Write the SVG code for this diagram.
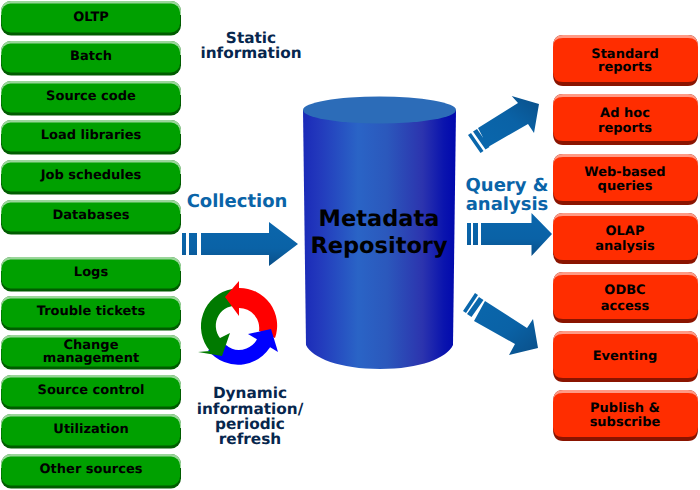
<svg xmlns="http://www.w3.org/2000/svg" width="700" height="490" viewBox="0 0 700 490">
<style>
text{font-family:"DejaVu Sans",Verdana,sans-serif;font-weight:700;text-anchor:middle;text-rendering:geometricPrecision}
.n{font-size:13px;fill:#000}
.d{font-size:15.300px;fill:#06264d}
.b{font-size:18px;fill:#0a64a8}
.m{font-size:22.500px;fill:#000}
.gs{fill:#005c00}.gh{fill:#9ad69a}.gf{fill:#00a000}
.rs{fill:#8a1400}.rh{fill:#ff9a85}.rf{fill:#ff2d00}
</style>
<defs>
<linearGradient id="ar" x1="0" y1="0" x2="0" y2="1"><stop offset="0" stop-color="#0a66ac"/><stop offset=".6" stop-color="#0a62a6"/><stop offset="1" stop-color="#0a4f88"/></linearGradient>
<linearGradient id="au" x1="0" y1="1" x2="1" y2="0"><stop offset="0" stop-color="#0a68ae"/><stop offset=".6" stop-color="#0a62a6"/><stop offset="1" stop-color="#0a4f88"/></linearGradient>
<linearGradient id="ad" x1="0" y1="0" x2="1" y2="1"><stop offset="0" stop-color="#0a68ae"/><stop offset=".6" stop-color="#0a62a6"/><stop offset="1" stop-color="#0a4f88"/></linearGradient>
<linearGradient id="cy" x1="0" y1="0" x2="1" y2="0"><stop offset="0" stop-color="#1a2ab8"/><stop offset=".1" stop-color="#2238bc"/><stop offset=".36" stop-color="#2a64c6"/><stop offset=".55" stop-color="#2b58bc"/><stop offset=".78" stop-color="#2c34ae"/><stop offset=".92" stop-color="#0a14ae"/><stop offset="1" stop-color="#0008ae"/></linearGradient>
<g id="gb"><rect class="gs" x="1" y="0" width="180" height="34.500" rx="10"/><path class="gh" d="M1 11A10 10 0 0 1 11 0H171A10 10 0 0 1 181 11V14H1Z"/><rect class="gf" x="1.500" y="2.500" width="178.500" height="29" rx="9"/></g>
<g id="rb"><path class="rs" d="M553 12Q553 0 563 0H688Q698 0 698 12V39Q698 51 688 51H563Q553 51 553 39Z"/><path class="rh" d="M553 12Q553 0 563 0H688Q698 0 698 12V20H553Z"/><path class="rf" d="M553 12Q553 3 563 3H688Q698 3 698 12V37Q698 47 688 47H563Q553 47 553 37Z"/></g>
</defs>
<rect width="700" height="490" fill="#fff"/>
<g id="connectors">
<path id="arrow-collection" fill="url(#ar)" d="M182 233h4v22h-4zM189 233h8v22h-8zM201 233H269V222L298 244L269 266V255H201Z"/>
<path id="arrow-up" fill="url(#au)" d="M468 135l3-2 12.500 18-3 2zM473 131.500l4-2.500 12.500 18-4 2.500zM478 128L518 103L511.700 96L539 104L534 133L528 124L488 147Z"/>
<path id="arrow-right" fill="url(#ar)" d="M467 223h4v22h-4zM473 223h5v22h-5zM481 223H531.500V213L552 234L531.500 256V245H481Z"/>
<path id="arrow-down" fill="url(#ad)" d="M463 311l12-18 3 2-12 18zM467 314l12-17 4.500 3-12 17zM474 321L485 301L527 328L533 319L538 348L509 355L515 344Z"/>
</g>
<g id="repository">
<path fill="url(#cy)" d="M303 110L306 345C312 358 340 369 380 369S447 358 453 345L456 110Z"/>
<ellipse cx="379.500" cy="110" rx="76.500" ry="13.500" fill="#2c6cb8"/>
<text class="m" x="379" y="226">Metadata</text>
<text class="m" x="379" y="253">Repository</text>
</g>
<g id="refresh-cycle">
<path fill="#0000ff" d="M208 350A38 38 0 0 0 274 339L259 332A20 20 0 0 1 226 345Z"/>
<path fill="#007a00" d="M232 289A38 38 0 0 0 210 351L198 352L222 356L230 333L220 338A20 20 0 0 1 239 306Z"/>
<path fill="#ff0000" d="M239 288A37.500 37.500 0 0 1 275 338L259 331A20 20 0 0 0 239 308V316L225 297L239 281Z"/>
<path fill="#0000ff" d="M248 334L271 329L278 352Z"/>
</g>
<g id="src-oltp"><use href="#gb" y="1"/><text class="n" x="91" y="21">OLTP</text></g>
<g id="src-batch"><use href="#gb" y="41"/><text class="n" x="91" y="60">Batch</text></g>
<g id="src-code"><use href="#gb" y="81"/><text class="n" x="91" y="100">Source code</text></g>
<g id="src-libs"><use href="#gb" y="120"/><text class="n" x="91" y="139">Load libraries</text></g>
<g id="src-jobs"><use href="#gb" y="160"/><text class="n" x="91" y="179">Job schedules</text></g>
<g id="src-db"><use href="#gb" y="200"/><text class="n" x="91" y="219">Databases</text></g>
<g id="src-logs"><use href="#gb" y="257"/><text class="n" x="91" y="276">Logs</text></g>
<g id="src-tickets"><use href="#gb" y="296"/><text class="n" x="91" y="315">Trouble tickets</text></g>
<g id="src-change"><use href="#gb" y="335"/><text class="n"><tspan x="91" y="349">Change</tspan><tspan x="91" y="362">management</tspan></text></g>
<g id="src-control"><use href="#gb" y="375"/><text class="n" x="91" y="393.500">Source control</text></g>
<g id="src-util"><use href="#gb" y="414"/><text class="n" x="91" y="433">Utilization</text></g>
<g id="src-other"><use href="#gb" y="454"/><text class="n" x="91" y="472.500">Other sources</text></g>
<g id="out-standard"><use href="#rb" y="35"/><text class="n"><tspan x="625" y="58">Standard</tspan><tspan x="625" y="71">reports</tspan></text></g>
<g id="out-adhoc"><use href="#rb" y="94"/><text class="n"><tspan x="625" y="117">Ad hoc</tspan><tspan x="625" y="132">reports</tspan></text></g>
<g id="out-web"><use href="#rb" y="154"/><text class="n"><tspan x="625" y="176">Web-based</tspan><tspan x="625" y="190">queries</tspan></text></g>
<g id="out-olap"><use href="#rb" y="213"/><text class="n"><tspan x="625" y="235">OLAP</tspan><tspan x="625" y="250">analysis</tspan></text></g>
<g id="out-odbc"><use href="#rb" y="272"/><text class="n"><tspan x="625" y="294">ODBC</tspan><tspan x="625" y="310">access</tspan></text></g>
<g id="out-event"><use href="#rb" y="331"/><text class="n" x="625" y="360">Eventing</text></g>
<g id="out-publish"><use href="#rb" y="390"/><text class="n"><tspan x="625" y="412">Publish &amp;</tspan><tspan x="625" y="426">subscribe</tspan></text></g>
<g id="labels">
<text class="d"><tspan x="251" y="43">Static</tspan><tspan x="251" y="58">information</tspan></text>
<text class="b" x="237" y="207">Collection</text>
<text class="b"><tspan x="507" y="191">Query &amp;</tspan><tspan x="507" y="210">analysis</tspan></text>
<text class="d"><tspan x="250" y="398">Dynamic</tspan><tspan x="250" y="414">information/</tspan><tspan x="250" y="429">periodic</tspan><tspan x="250" y="444">refresh</tspan></text>
</g>
</svg>
